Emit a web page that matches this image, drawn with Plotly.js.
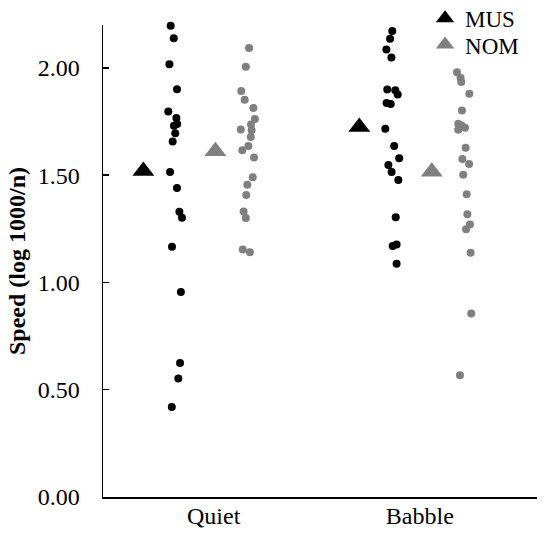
<!DOCTYPE html>
<html>
<head>
<meta charset="utf-8">
<script src="https://cdn.plot.ly/plotly-3.0.1.min.js"></script>
<style>html,body{margin:0;padding:0;background:#fff}#chart{width:550px;height:535px}</style>
</head>
<body>
<div id="chart"></div>
<script>
// Categories and tick positions
var categories = ["Quiet", "Babble"];
var categoryTickX = [1.01, 1.96];

// Individual points (x = jittered position within group, y = speed)
var quietMusX = [0.812,0.826,0.806,0.841,0.801,0.838,0.842,0.827,0.833,0.821,0.809,0.841,0.852,0.864,0.818,0.859,0.855,0.847,0.817];
var quietMusY = [2.197,2.138,2.017,1.901,1.797,1.766,1.738,1.730,1.696,1.657,1.515,1.440,1.329,1.302,1.166,0.955,0.625,0.552,0.419];

var quietNomX = [1.173,1.158,1.137,1.153,1.193,1.200,1.182,1.135,1.185,1.181,1.170,1.142,1.196,1.190,1.165,1.160,1.148,1.158,1.144,1.177];
var quietNomY = [2.093,2.005,1.892,1.852,1.813,1.762,1.736,1.713,1.709,1.678,1.636,1.616,1.582,1.490,1.455,1.408,1.331,1.301,1.154,1.141];

var babbleMusX = [1.833,1.823,1.806,1.829,1.810,1.847,1.858,1.807,1.826,1.801,1.842,1.865,1.815,1.830,1.861,1.849,1.835,1.853,1.853];
var babbleMusY = [2.172,2.136,2.086,2.049,1.899,1.896,1.876,1.837,1.832,1.716,1.636,1.579,1.548,1.515,1.478,1.304,1.170,1.177,1.087];

var babbleNomX = [2.131,2.148,2.151,2.188,2.154,2.137,2.153,2.168,2.137,2.171,2.156,2.187,2.160,2.176,2.179,2.191,2.173,2.194,2.197,2.145];
var babbleNomY = [1.980,1.953,1.934,1.880,1.802,1.740,1.732,1.721,1.712,1.628,1.575,1.552,1.502,1.411,1.318,1.270,1.248,1.139,0.855,0.567];

// Group means (triangles)
var musMeanX = [0.686, 1.681];
var musMeanY = [1.520, 1.725];
var nomMeanX = [1.018, 2.015];
var nomMeanY = [1.611, 1.516];

var yTicks = [0, 0.5, 1.0, 1.5, 2.0];
var yTickText = ["0.00", "0.50", "1.00", "1.50", "2.00"];

var BLACK = "#000000", GRAY = "#808080";
var FONT = "Liberation Serif";

function dots(x, y, color, name) {
  return {type: "scatter", mode: "markers", x: x, y: y, name: name, showlegend: false,
          marker: {symbol: "circle", size: 8, color: color}, cliponaxis: false, hoverinfo: "y"};
}
var traces = [
  dots(quietMusX, quietMusY, BLACK, "MUS"),
  dots(babbleMusX, babbleMusY, BLACK, "MUS"),
  dots(quietNomX, quietNomY, GRAY, "NOM"),
  dots(babbleNomX, babbleNomY, GRAY, "NOM"),
  {type: "scatter", mode: "markers", x: musMeanX, y: musMeanY, name: "MUS", legend: "legend",
   marker: {symbol: "triangle-up", size: 19, color: BLACK}, cliponaxis: false},
  {type: "scatter", mode: "markers", x: nomMeanX, y: nomMeanY, name: "NOM", legend: "legend2",
   marker: {symbol: "triangle-up", size: 19, color: GRAY}, cliponaxis: false}
];

var legendFont = {family: FONT, size: 23, color: "#000"};
var layout = {
  width: 550, height: 535,
  margin: {l: 103, r: 13, t: 25, b: 38, pad: 0, autoexpand: false},
  paper_bgcolor: "#fff", plot_bgcolor: "#fff",
  font: {family: FONT, size: 24, color: "#000"},
  showlegend: true,
  legend: {x: 0.742, y: 1.06, xanchor: "left", yanchor: "top",
           font: legendFont, bgcolor: "rgba(0,0,0,0)"},
  legend2: {x: 0.742, y: 1.004, xanchor: "left", yanchor: "top",
           font: legendFont, bgcolor: "rgba(0,0,0,0)"},
  xaxis: {range: [0.5, 2.5], tickmode: "array", tickvals: categoryTickX, ticktext: categories,
          showgrid: false, zeroline: false, showline: true, linecolor: "#000", linewidth: 1.5,
          ticks: "", ticklabelstandoff: -3, tickfont: {family: FONT, size: 24, color: "#000"}},
  yaxis: {range: [0, 2.2], tickmode: "array", tickvals: yTicks, ticktext: yTickText,
          showgrid: false, zeroline: false, showline: true, linecolor: "#000", linewidth: 1.5,
          ticks: "inside", ticklen: 6, tickwidth: 1.5, tickcolor: "#000", ticklabelstandoff: 17,
          tickfont: {family: FONT, size: 24, color: "#000"},
          title: {text: "<b>Speed (log 1000/n)</b>", font: {family: FONT, size: 24, color: "#000"}, standoff: 5}}
};
Plotly.newPlot("chart", traces, layout, {displayModeBar: false, staticPlot: true});
</script>
</body>
</html>
